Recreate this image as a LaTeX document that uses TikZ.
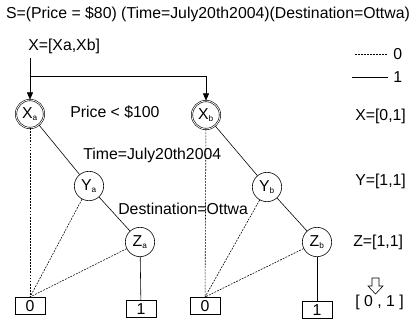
\documentclass[tikz,border=0pt]{standalone}
\usepackage{fontspec}
\setmainfont{Liberation Sans}
\usetikzlibrary{arrows.meta,positioning}

\begin{document}
\begin{tikzpicture}[x=0.03cm, y=-0.03cm, line width=0.5pt,
  txt/.style={font=\fontsize{13.5}{15}\selectfont, inner sep=0pt},
  lbl/.style={txt, anchor=west},
  var/.style={circle, draw, minimum size=0.88cm, inner sep=0pt, txt},
  root/.style={var, double, double distance=0.7pt, minimum size=0.84cm},
  leaf/.style={draw, minimum width=0.9cm, minimum height=0.52cm, inner sep=0pt, txt},
  hi/.style={solid},
  lo/.style={dash pattern=on 1.6pt off 1pt},
  arr/.style={-{Triangle[length=2.2mm,width=1.8mm]}}]
  \useasboundingbox (0,0) rectangle (417,330);
  \node[txt] (title) at (208,14) {S=(Price = \$80) (Time=July20th2004)(Destination=Ottwa)};
  \node[lbl] (xlab) at (28,46) {X=[Xa,Xb]};
  % variables
  \node[root] (Xa) at (30,114)  {X\textsubscript{\scriptsize a}};
  \node[root] (Xb) at (206,115) {X\textsubscript{\scriptsize b}};
  \node[var]  (Ya) at (89,186)  {Y\textsubscript{\scriptsize a}};
  \node[var]  (Yb) at (267,187) {Y\textsubscript{\scriptsize b}};
  \node[var]  (Za) at (140,242) {Z\textsubscript{\scriptsize a}};
  \node[var]  (Zb) at (317,242) {Z\textsubscript{\scriptsize b}};
  % terminals
  \node[leaf] (a0) at (30,306)  {0};
  \node[leaf] (a1) at (141,309) {1};
  \node[leaf] (b0) at (205,306) {0};
  \node[leaf] (b1) at (317,310) {1};
  % conditions
  \node[lbl] (c1) at (70,112)  {Price < \$100};
  \node[lbl] (c2) at (83,155)  {Time=July20th2004};
  \node[lbl] (c3) at (118,209) {Destination=Ottwa};
  % right column
  \node[lbl] (xv) at (355,116) {X=[0,1]};
  \node[lbl] (yv) at (355,181) {Y=[1,1]};
  \node[lbl] (zv) at (353,242) {Z=[1,1]};
  \node[lbl] (res) at (355,302) {[ 0 , 1 ]};
  \draw (372,278) -- (379,278) -- (379,286) -- (383,286) -- (375.5,294)
        -- (368,286) -- (372,286) -- cycle;
  % legend
  \coordinate (l0a) at (355,54);  \coordinate (l0b) at (388,54);
  \coordinate (l1a) at (352,77);  \coordinate (l1b) at (388,77);
  \node[lbl] (l0) at (393,54) {0};
  \node[lbl] (l1) at (393,77) {1};
  \draw[lo] (l0a) -- (l0b);
  \draw[hi] (l1a) -- (l1b);
  % entry
  \coordinate (split) at (30,76);
  \draw[arr] (Xa |- 0,58) -- (Xa);
  \draw[arr] (split) -| (Xb);
  % edges
  \draw[hi] (Xa) -- (Ya);
  \draw[hi] (Ya) -- (Za);
  \draw[hi] (Za) -- (a1);
  \draw[lo] (Xa) -- (a0);
  \draw[lo] (Ya) -- (a0.north);
  \draw[lo] (Za) -- (a0.north);
  \draw[hi] (Xb) -- (Yb);
  \draw[hi] (Yb) -- (Zb);
  \draw[hi] (Zb) -- (b1);
  \draw[lo] (Xb) -- (b0);
  \draw[lo] (Yb) -- (b0.north);
  \draw[lo] (Zb) -- (b0.north);
\end{tikzpicture}
\end{document}
